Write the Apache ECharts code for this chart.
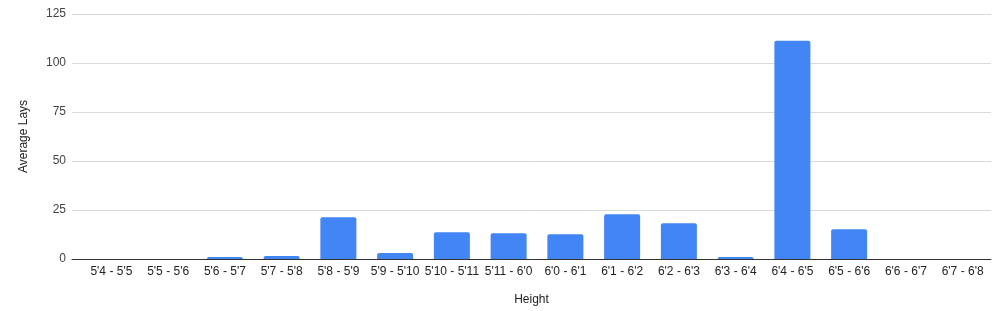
<!DOCTYPE html>
<html><head><meta charset="utf-8">
<script src="https://cdn.jsdelivr.net/npm/echarts@6/dist/echarts.min.js"></script>
<style>html,body{margin:0;padding:0;background:#fff}#c{width:1000px;height:311px}</style>
</head><body><div id="c"></div>
<script>
const categories = ["5'4 - 5'5","5'5 - 5'6","5'6 - 5'7","5'7 - 5'8","5'8 - 5'9","5'9 - 5'10","5'10 - 5'11","5'11 - 6'0","6'0 - 6'1","6'1 - 6'2","6'2 - 6'3","6'3 - 6'4","6'4 - 6'5","6'5 - 6'6","6'6 - 6'7","6'7 - 6'8"];
const averageLays = [0, 0, 1, 1.5, 21.3, 3, 13.6, 13.1, 12.6, 22.8, 18.2, 1, 111.4, 15.2, 0, 0];
const yTicks = [0, 25, 50, 75, 100, 125];

const chart = echarts.init(document.getElementById('c'));
const font = "Liberation Sans, Arial, sans-serif";
const yMin = yTicks[0], yMax = yTicks[yTicks.length-1];
chart.setOption({
  animation: false,
  grid: [
    {left: 72, right: 9, top: 14, bottom: 52},
    {left: 83, right: 9, top: 14, bottom: 52}
  ],
  xAxis: [{
    gridIndex: 0, type: 'value', min: 0, max: 1,
    name: 'Height', nameLocation: 'middle', nameGap: 35,
    nameTextStyle: {color: '#222', fontSize: 12, fontFamily: font},
    axisLine: {show: true, onZero: false, lineStyle: {color: '#333', width: 1}},
    axisTick: {show: false}, axisLabel: {show: false}, splitLine: {show: false}
  }, {
    gridIndex: 1, type: 'category', data: categories,
    axisLine: {show: false},
    axisTick: {show: false},
    axisLabel: {color: '#222', fontSize: 12, fontFamily: font, interval: 0, margin: 7}
  }],
  yAxis: [{
    gridIndex: 0, type: 'value', min: yMin, max: yMax, interval: 25,
    name: 'Average Lays', nameLocation: 'middle', nameGap: 42, nameRotate: 90,
    nameTextStyle: {color: '#222', fontSize: 12, fontFamily: font},
    axisLine: {show: false}, axisTick: {show: false},
    axisLabel: {color: '#444', fontSize: 12, fontFamily: font, margin: 6},
    splitLine: {lineStyle: {color: '#dadada'}}
  }, {
    gridIndex: 1, type: 'value', min: yMin, max: yMax, interval: 25,
    axisLine: {show: false}, axisTick: {show: false},
    axisLabel: {show: false}, splitLine: {show: false}
  }],
  series: [{
    type: 'bar', xAxisIndex: 1, yAxisIndex: 1, data: averageLays, barWidth: 36,
    itemStyle: {color: '#4285F4', borderRadius: [2,2,0,0]}
  }]
});
</script></body></html>
